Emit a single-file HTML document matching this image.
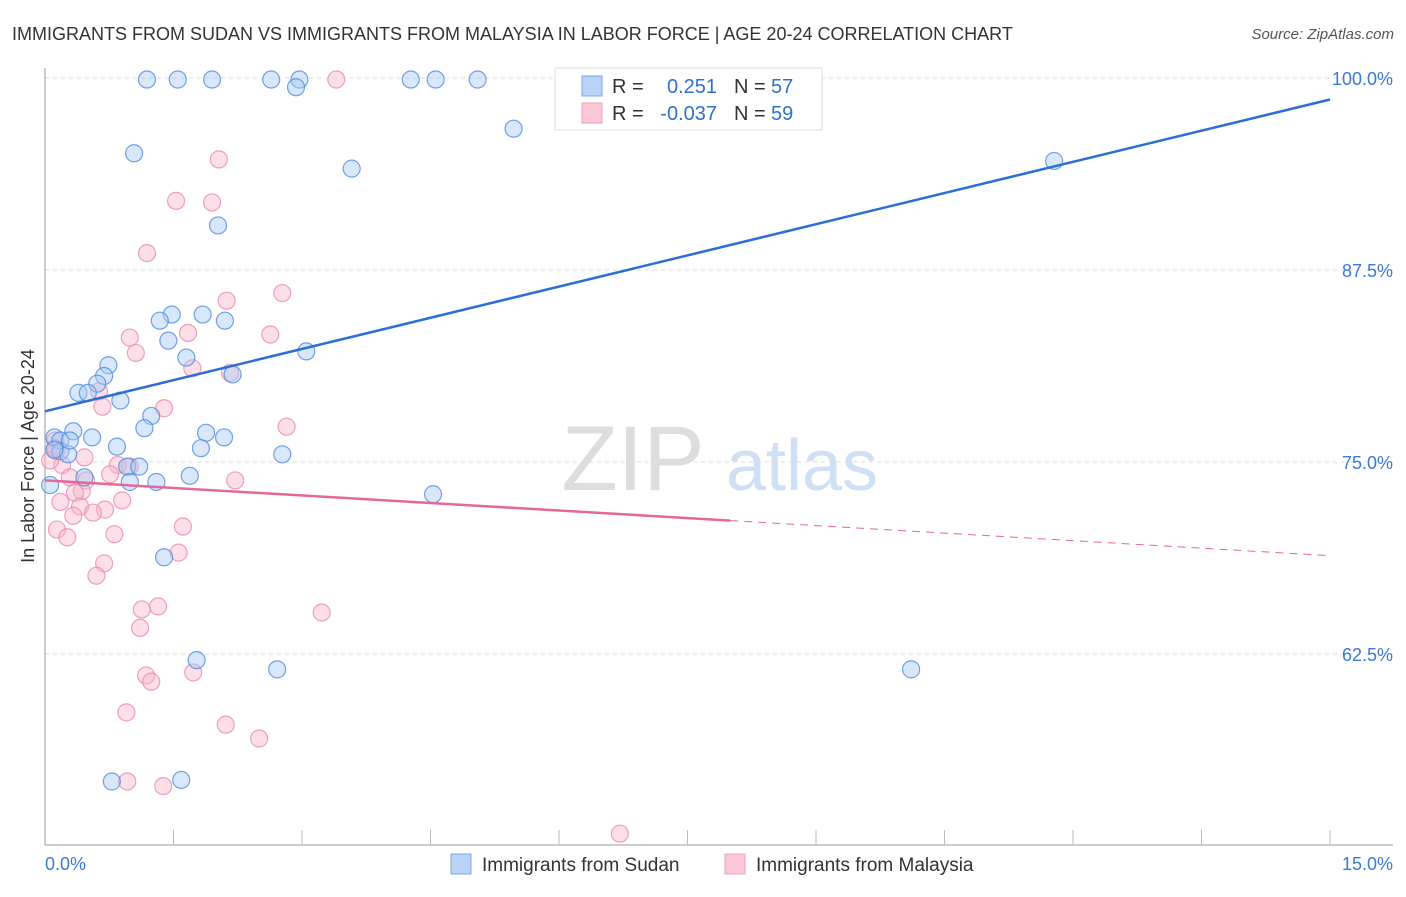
<!DOCTYPE html>
<html><head><meta charset="utf-8"><style>
body{margin:0;background:#fff;font-family:"Liberation Sans",sans-serif;}
svg text{font-family:"Liberation Sans",sans-serif;}
</style></head><body>
<svg id="chart" width="1406" height="892" viewBox="0 0 1406 892" xmlns="http://www.w3.org/2000/svg">
<text x="12" y="40" font-size="18" fill="#333">IMMIGRANTS FROM SUDAN VS IMMIGRANTS FROM MALAYSIA IN LABOR FORCE | AGE 20-24 CORRELATION CHART</text>
<text x="1394" y="39" font-size="15" fill="#555" font-style="italic" text-anchor="end">Source: ZipAtlas.com</text>
<text transform="translate(34,456) rotate(-90)" font-size="18" fill="#333" text-anchor="middle">In Labor Force | Age 20-24</text>
<g>
<text x="633" y="490" font-size="92" fill="#ddd" font-family="Liberation Serif" text-anchor="middle">ZIP</text>
<text x="802" y="490" font-size="72" fill="#cfe0f4" text-anchor="middle">atlas</text>
</g>
<g id="grid"></g>
<g id="axes"></g>
<g id="points"></g>
<g id="lines"></g>
<g>
<rect x="555" y="68" width="267" height="62" fill="#fff" stroke="#ddd"/>
<rect x="582" y="76" width="20" height="20" fill="#b8d3f5" stroke="#7aa7e6"/>
<rect x="582" y="103" width="20" height="20" fill="#fcc8d8" stroke="#eea0b8"/>
<text x="612" y="93" font-size="20" fill="#333">R =</text>
<text x="717" y="93" font-size="20" fill="#2f6fd1" text-anchor="end">0.251</text>
<text x="734" y="93" font-size="20" fill="#333">N =</text>
<text x="771" y="93" font-size="20" fill="#2f6fd1">57</text>
<text x="612" y="120" font-size="20" fill="#333">R =</text>
<text x="717" y="120" font-size="20" fill="#2f6fd1" text-anchor="end">-0.037</text>
<text x="734" y="120" font-size="20" fill="#333">N =</text>
<text x="771" y="120" font-size="20" fill="#2f6fd1">59</text>
</g>
<g>
<rect x="451" y="854" width="20" height="20" fill="#b8d3f5" stroke="#7aa7e6"/>
<text x="482" y="871" font-size="19" fill="#333">Immigrants from Sudan</text>
<rect x="725" y="854" width="20" height="20" fill="#fcc8d8" stroke="#eea0b8"/>
<text x="756" y="871" font-size="19" fill="#333">Immigrants from Malaysia</text>
</g>
</svg>
<script>
const xTicks=[0,1,2,3,4,5,6,7,8,9,10,11,12,13,14,15];
const yTicks=[62.5,75,87.5,100];
const yTickLabels=["62.5%","75.0%","87.5%","100.0%"];
const sudanX=[1.19,1.55,1.95,2.64,2.97,2.93,4.27,4.56,5.05,5.47,1.04,3.58,11.78,2.02,1.48,1.34,1.84,2.10,1.44,1.65,3.05,0.74,0.69,0.61,0.39,0.50,0.88,1.24,1.16,1.88,2.09,0.11,0.33,0.55,0.18,0.84,1.82,2.77,0.18,0.27,0.11,0.96,1.10,1.69,0.99,1.30,0.46,4.53,1.39,1.77,2.71,10.11,0.78,1.59,0.06,2.19,0.29];
const sudanY=[99.9,99.9,99.9,99.9,99.9,99.4,99.9,99.9,99.9,96.7,95.1,94.1,94.6,90.4,84.6,84.2,84.6,84.2,82.9,81.8,82.2,81.3,80.6,80.1,79.5,79.5,79.0,78.0,77.2,76.9,76.6,76.6,77.0,76.6,76.4,76.0,75.9,75.5,75.7,75.5,75.8,74.7,74.7,74.1,73.7,73.7,74.0,72.9,68.8,62.1,61.5,61.5,54.2,54.3,73.5,80.7,76.4];
const malaysiaX=[3.40,2.03,1.53,1.95,1.19,2.77,2.12,0.99,2.63,1.67,1.06,1.72,2.16,0.63,0.67,1.39,2.82,0.12,0.13,0.46,0.20,0.85,0.99,0.76,0.29,0.48,2.22,0.43,0.35,0.90,0.18,0.41,0.70,0.56,0.33,1.61,0.81,0.14,0.26,1.56,0.69,0.60,1.32,1.13,3.23,1.11,1.18,1.24,1.73,0.95,2.11,2.50,0.96,1.38,6.71,0.06,0.12];
const malaysiaY=[99.9,94.7,92.0,91.9,88.6,86.0,85.5,83.1,83.3,83.4,82.1,81.1,80.8,79.6,78.6,78.5,77.3,76.4,75.7,75.3,74.8,74.8,74.7,74.2,74.0,73.8,73.8,73.1,73.0,72.5,72.4,72.1,71.9,71.7,71.5,70.8,70.3,70.6,70.1,69.1,68.4,67.6,65.6,65.4,65.2,64.2,61.1,60.7,61.3,58.7,57.9,57.0,54.2,53.9,50.8,75.1,75.9];
const sudanTrend=[78.3,98.6];
const malaysiaTrend=[73.8,68.9];
const malaysiaSolidEnd=8.0;

const NS="http://www.w3.org/2000/svg";
const X=v=>45+v/15*1285;
const Y=v=>462-(v-75)/12.5*192;
function mk(tag,attrs,parent){const e=document.createElementNS(NS,tag);for(const k in attrs)e.setAttribute(k,attrs[k]);parent.appendChild(e);return e;}
const grid=document.getElementById('grid'),axes=document.getElementById('axes'),pts=document.getElementById('points'),lines=document.getElementById('lines');
yTicks.forEach((t,i)=>{
  const l=mk('line',{x1:45,x2:1393,y1:Y(t),y2:Y(t),stroke:'#ddd','stroke-dasharray':'4,4'},grid);
  
  
  const tx=mk('text',{x:1393,y:Y(t)+7,'font-size':18,fill:'#3b78d8','text-anchor':'end'},axes);
  tx.textContent=yTickLabels[i];
  
  
});
const ax=mk('line',{x1:45,x2:1393,y1:845,y2:845,stroke:'#bbb','stroke-width':1.5},axes);


const ay=mk('line',{x1:45,x2:45,y1:68,y2:845,stroke:'#bbb','stroke-width':1.5},axes);


xTicks.forEach(t=>{ if(t%1.5>0.01&&t!==0&&t!==15){} });
for(let i=0;i<=10;i++){const v=i*1.5;
  const tk=mk('line',{x1:X(v),x2:X(v),y1:830,y2:845,stroke:'#bbb'},axes);
  
  
}
const xl0=mk('text',{x:45,y:870,'font-size':18,fill:'#3b78d8'},axes);xl0.textContent='0.0%';


const xl1=mk('text',{x:1393,y:870,'font-size':18,fill:'#3b78d8','text-anchor':'end'},axes);xl1.textContent='15.0%';


function drawPts(xs,ys,fill,stroke,name){xs.forEach((x,i)=>{
  const c=mk('circle',{cx:X(x),cy:Y(ys[i]),r:8.5,fill:fill,'fill-opacity':0.45,stroke:stroke,'stroke-opacity':0.8,'stroke-width':1.2},pts);
  
  
});}
drawPts(malaysiaX,malaysiaY,'#f9b8cc','#ec8aaa','point-malaysia');
drawPts(sudanX,sudanY,'#a9c9f2','#4f8be0','point-sudan');
const bl=mk('line',{x1:X(0),y1:Y(sudanTrend[0]),x2:X(15),y2:Y(sudanTrend[1]),stroke:'#2b6fd6','stroke-width':2.5},lines);


const mAt=v=>malaysiaTrend[0]+(malaysiaTrend[1]-malaysiaTrend[0])*v/15;
const pl=mk('line',{x1:X(0),y1:Y(mAt(0)),x2:X(malaysiaSolidEnd),y2:Y(mAt(malaysiaSolidEnd)),stroke:'#e5679a','stroke-width':2.5},lines);


const pd=mk('line',{x1:X(malaysiaSolidEnd),y1:Y(mAt(malaysiaSolidEnd)),x2:X(15),y2:Y(mAt(15)),stroke:'#e5679a','stroke-width':1,'stroke-dasharray':'8,6'},lines);


</script>
</body></html>
